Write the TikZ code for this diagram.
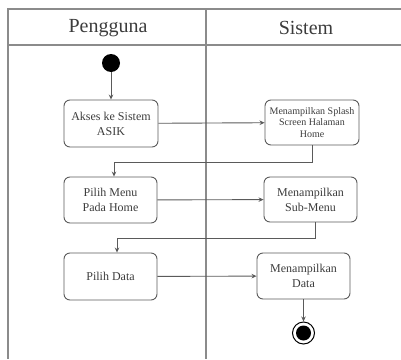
\documentclass[tikz,border=0pt]{standalone}
\usepackage{fontspec}
\setmainfont{Liberation Serif}
\usetikzlibrary{arrows.meta}
\definecolor{ln}{RGB}{90,90,90}
\definecolor{tx}{RGB}{60,60,60}
\tikzset{
  actbox/.style={draw=ln, line width=0.9pt, rounded corners=6pt, align=center, inner sep=1pt,
    font=\fontsize{12}{15}\selectfont, text=tx},
  flow/.style={draw=ln, line width=0.9pt, -{Stealth[length=5pt,width=4.5pt]}},
  frame/.style={draw=ln!70, line width=1.2pt},
  hdr/.style={font=\fontsize{20}{24}\selectfont, text=tx}
}
\begin{document}
\begin{tikzpicture}[x=1pt,y=-1pt]
\useasboundingbox (0,0) rectangle (401,359);
% frame
\draw[frame] (401,9) -- (8,9) -- (8,359);
\draw[frame] (8,45) -- (401,45);
\draw[frame] (206,9) -- (206,359);
\node[hdr] (h1) at (108,28) {Pengguna};
\node[hdr] (h2) at (306,28) {Sistem};
% nodes
\node[circle, fill=black, minimum size=18pt, inner sep=0pt] (start) at (111,63) {};
\node[actbox, minimum width=94pt, minimum height=47pt] (b1) at (111,123.5) {Akses ke Sistem\\ASIK};
\node[actbox, minimum width=94pt, minimum height=45pt, font=\fontsize{10}{11.5}\selectfont] (b2) at (312,122.5) {Menampilkan Splash\\Screen Halaman\\Home};
\node[actbox, minimum width=93pt, minimum height=46pt] (b3) at (110.5,200) {Pilih Menu\\Pada Home};
\node[actbox, minimum width=93pt, minimum height=45pt] (b4) at (310.5,199.5) {Menampilkan\\Sub-Menu};
\node[actbox, minimum width=93pt, minimum height=47pt] (b5) at (110.5,276.5) {Pilih Data};
\node[actbox, minimum width=93pt, minimum height=46pt] (b6) at (303.5,276) {Menampilkan\\Data};
\node[circle, draw=black, line width=1pt, minimum size=22pt, inner sep=0pt] (end) at (303.5,333) {};
\node[circle, fill=black, minimum size=15pt, inner sep=0pt] (endin) at (end.center) {};
% connectors
\draw[flow] (start) -- (b1);
\draw[flow] (b1) -- (b2);
\draw[flow] (b2.south) -- ++(0,17) -| ([xshift=3.5pt]b3.north);
\draw[flow] (b3) -- (b4);
\draw[flow] ([xshift=4.5pt]b4.south) -- ++(0,15.5) -| ([xshift=6.5pt]b5.north);
\draw[flow] (b5) -- (b6);
\draw[flow] (b6) -- (end);
\end{tikzpicture}
\end{document}
